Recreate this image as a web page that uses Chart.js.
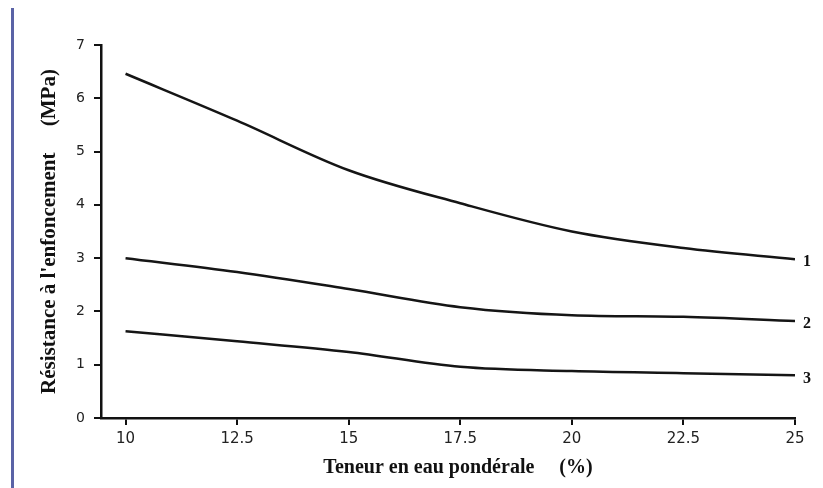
<!DOCTYPE html>
<html>
<head>
<meta charset="utf-8">
<script src="https://cdn.jsdelivr.net/npm/chart.js@4"></script>
<style>
  body { margin: 0; background: #fff; }
  #wrap { position: relative; width: 823px; height: 488px; }
  #edge { position: absolute; left: 11px; top: 8px; width: 3px; height: 480px; background: #5a63a6; }
</style>
</head>
<body>
<div id="wrap">
  <div id="edge"></div>
  <canvas id="chart"></canvas>
</div>
<script>
const teneur = [10, 12.5, 15, 17.5, 20, 22.5, 25];
const courbe1 = [6.46, 5.58, 4.65, 4.03, 3.5, 3.19, 2.98];
const courbe2 = [3.0, 2.74, 2.42, 2.08, 1.93, 1.9, 1.82];
const courbe3 = [1.63, 1.44, 1.24, 0.96, 0.88, 0.84, 0.8];
const courbeLabels = ["1", "2", "3"];
const xTickValues = [10, 12.5, 15, 17.5, 20, 22.5, 25];
const yTickValues = [0, 1, 2, 3, 4, 5, 6, 7];

function toPoints(values) {
  return teneur.map((x, i) => ({ x: x, y: values[i] }));
}

const endLabels = {
  id: "endLabels",
  afterDatasetsDraw(chart) {
    const ctx = chart.ctx;
    ctx.save();
    ctx.font = "bold 16px 'Liberation Serif'";
    ctx.fillStyle = "#111";
    ctx.textBaseline = "middle";
    chart.data.datasets.forEach((ds, i) => {
      const pts = chart.getDatasetMeta(i).data;
      const last = pts[pts.length - 1];
      ctx.fillText(courbeLabels[i], last.x + 8, last.y + 3);
    });
    ctx.restore();
  }
};

const lineStyle = {
  borderColor: "#151515",
  borderWidth: 2.5,
  pointRadius: 0,
  fill: false,
  showLine: true,
  cubicInterpolationMode: "monotone"
};

new Chart(document.getElementById("chart").getContext("2d"), {
  type: "scatter",
  data: {
    datasets: [
      { ...lineStyle, label: courbeLabels[0], data: toPoints(courbe1) },
      { ...lineStyle, label: courbeLabels[1], data: toPoints(courbe2) },
      { ...lineStyle, label: courbeLabels[2], data: toPoints(courbe3) }
    ]
  },
  options: {
    responsive: true,
    maintainAspectRatio: false,
    animation: false,
    layout: { padding: { left: 0, top: 45, right: 28, bottom: 0 } },
    plugins: {
      legend: { display: false },
      tooltip: { enabled: false }
    },
    scales: {
      x: {
        type: "linear",
        min: 9.45,
        max: 25,
        afterBuildTicks: s => { s.ticks = xTickValues.map(v => ({ value: v })); },
        afterFit: s => { s.height = 70; },
        grid: { drawOnChartArea: false, tickLength: 7, color: "#111", lineWidth: 2 },
        border: { display: true, color: "#111", width: 2.5 },
        ticks: { color: "#222", padding: 5, font: { family: "'DejaVu Sans'", size: 15 } },
        title: {
          display: true,
          // leading spaces nudge the centred title to the right like the scan
          text: "\u00a0\u00a0\u00a0\u00a0Teneur en eau pondérale     (%)",
          color: "#111",
          padding: { bottom: 8 },
          font: { family: "'Liberation Serif'", size: 20, weight: "bold" }
        }
      },
      y: {
        min: 0,
        max: 7,
        afterBuildTicks: s => { s.ticks = yTickValues.map(v => ({ value: v })); },
        afterFit: s => { s.width = 101; },
        grid: { drawOnChartArea: false, tickLength: 7, color: "#111", lineWidth: 2 },
        border: { display: true, color: "#111", width: 2.5 },
        ticks: { color: "#222", padding: 9, font: { family: "'DejaVu Sans'", size: 14 } },
        title: {
          display: true,
          text: "Résistance à l'enfoncement     (MPa)",
          color: "#111",
          padding: { top: 37 },
          font: { family: "'Liberation Serif'", size: 21, weight: "bold" }
        }
      }
    }
  },
  plugins: [endLabels]
});
</script>
</body>
</html>
